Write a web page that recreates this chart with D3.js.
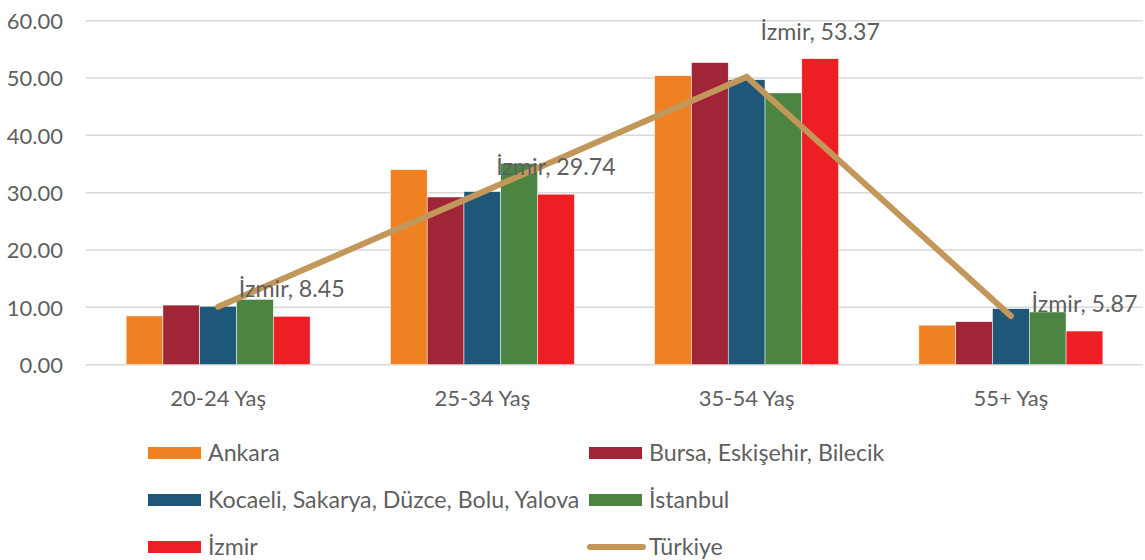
<!DOCTYPE html>
<html>
<head>
<meta charset="utf-8">
<script src="https://cdn.jsdelivr.net/npm/d3@7"></script>
<style>
  body { margin: 0; background: #fff; }
  text { font-family: Lato, "Open Sans", sans-serif; fill: #5F5F5F; }
</style>
</head>
<body>
<div id="chart"></div>
<script>
// age groups on the x axis
const categories = ["20-24 Yaş", "25-34 Yaş", "35-54 Yaş", "55+ Yaş"];
const seriesNames = ["Ankara", "Bursa, Eskişehir, Bilecik", "Kocaeli, Sakarya, Düzce, Bolu, Yalova", "İstanbul", "İzmir"];
const ankara = [8.5, 34.0, 50.4, 6.9];
const bursa = [10.4, 29.25, 52.7, 7.5];
const kocaeli = [10.2, 30.2, 49.7, 9.77];
const istanbul = [11.4, 35.1, 47.4, 9.2];
const izmir = [8.45, 29.74, 53.37, 5.87];
const turkiye = [10.1, 30.1, 50.2, 8.5];
const yTicks = [0, 10, 20, 30, 40, 50, 60];

const seriesValues = [ankara, bursa, kocaeli, istanbul, izmir];
const colors = ["#EF8122", "#A02536", "#1F5779", "#4C8542", "#EE1F24"];
const lineColor = "#C3975A";

const W = 1145, H = 560;
const axisFont = 22;
const labelFont = 23.2;

const svg = d3.select("#chart").append("svg")
  .attr("width", W)
  .attr("height", H);

const x = d3.scaleBand()
  .domain(categories)
  .range([86, 1143])
  .paddingInner(0.3037)
  .paddingOuter(0.3037 / 2);

const xInner = d3.scaleBand()
  .domain(d3.range(seriesNames.length))
  .range([0, x.bandwidth()]);

const y = d3.scaleLinear().domain([0, 60]).range([364.7, 20.7]);

// gridlines
svg.append("g")
  .selectAll("line")
  .data(yTicks)
  .enter().append("line")
  .attr("x1", 86)
  .attr("x2", 1143)
  .attr("y1", d => y(d))
  .attr("y2", d => y(d))
  .attr("stroke", "#D9D9D9")
  .attr("stroke-width", 1.5);

// y axis labels
const yAxis = svg.append("g")
  .attr("transform", "translate(63,0)")
  .call(d3.axisLeft(y).tickValues(yTicks).tickFormat(d3.format(".2f")).tickSize(0).tickPadding(0));
yAxis.select(".domain").remove();
yAxis.selectAll("text")
  .attr("font-family", null)
  .attr("font-size", axisFont)
  .attr("dy", "0.35em")
  .style("fill", "#5F5F5F");

// bars
const groups = svg.append("g")
  .selectAll("g")
  .data(seriesValues)
  .enter().append("g")
  .attr("fill", (d, i) => colors[i]);

groups.selectAll("rect")
  .data((vals, si) => vals.map((v, ci) => ({ v, ci, si })))
  .enter().append("rect")
  .attr("x", d => x(categories[d.ci]) + xInner(d.si))
  .attr("width", xInner.bandwidth())
  .attr("y", d => y(d.v))
  .attr("height", d => y(0) - y(d.v))
  .attr("stroke", "#fff")
  .attr("stroke-width", 0.5);

// Türkiye line
const line = d3.line()
  .x((d, i) => x(categories[i]) + x.bandwidth() / 2)
  .y(d => y(d));

svg.append("path")
  .datum(turkiye)
  .attr("d", line)
  .attr("fill", "none")
  .attr("stroke", lineColor)
  .attr("stroke-width", 6)
  .attr("stroke-linecap", "round")
  .attr("stroke-linejoin", "miter");

// data labels for İzmir
svg.append("g")
  .selectAll("text")
  .data(izmir)
  .enter().append("text")
  .attr("x", (d, i) => x(categories[i]) + xInner(4) + xInner.bandwidth() / 2)
  .attr("y", d => y(d) - 27)
  .attr("dy", "0.35em")
  .attr("text-anchor", "middle")
  .attr("font-size", labelFont)
  .text(d => "İzmir, " + d.toFixed(2));

// category labels
const xAxis = svg.append("g")
  .attr("transform", "translate(0,398)")
  .call(d3.axisBottom(x).tickSize(0).tickPadding(0));
xAxis.select(".domain").remove();
xAxis.selectAll("text")
  .attr("font-family", null)
  .attr("font-size", axisFont)
  .attr("dy", "0.35em")
  .style("fill", "#5F5F5F");

// legend
const legendItems = seriesNames.map((name, i) => ({ name, color: colors[i], type: "rect" }))
  .concat([{ name: "Türkiye", color: lineColor, type: "line" }]);
const colX = [148, 589];
const rowY = [453, 500, 547];

const legend = svg.append("g")
  .selectAll("g")
  .data(legendItems)
  .enter().append("g")
  .attr("transform", (d, i) => "translate(" + colX[i % 2] + "," + rowY[Math.floor(i / 2)] + ")");

legend.filter(d => d.type === "rect").append("rect")
  .attr("x", 0)
  .attr("y", -6)
  .attr("width", 53)
  .attr("height", 12)
  .attr("fill", d => d.color);

legend.filter(d => d.type === "line").append("line")
  .attr("x1", 1)
  .attr("x2", 54)
  .attr("y1", 0)
  .attr("y2", 0)
  .attr("stroke", d => d.color)
  .attr("stroke-width", 6)
  .attr("stroke-linecap", "round");

legend.append("text")
  .attr("x", 60)
  .attr("y", 0)
  .attr("dy", "0.35em")
  .attr("font-size", labelFont)
  .text(d => d.name);
</script>
</body>
</html>
